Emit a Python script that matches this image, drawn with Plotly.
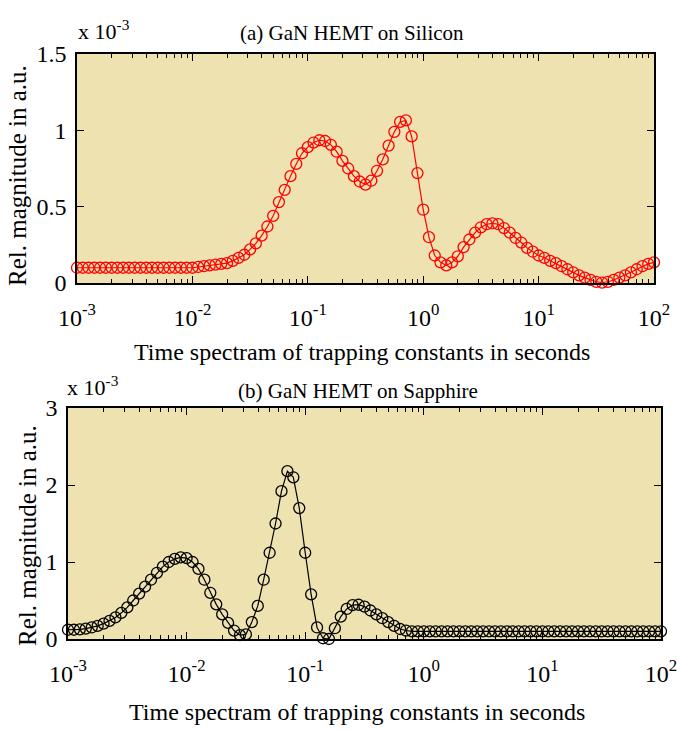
import numpy as np
import plotly.graph_objects as go

# time grid exponents (log10 of seconds)
log_t = [round(-3 + 0.05 * k, 2) for k in range(101)]
t = [10 ** v for v in log_t]

# (a) GaN HEMT on Silicon, magnitude in units of 1e-3
silicon = [
    0.10, 0.10, 0.10, 0.10, 0.10, 0.10, 0.10, 0.10, 0.10, 0.10,
    0.10, 0.10, 0.10, 0.10, 0.10, 0.10, 0.10, 0.10, 0.10, 0.10,
    0.10, 0.105, 0.11, 0.115, 0.12, 0.125, 0.13, 0.145, 0.165, 0.185,
    0.22, 0.26, 0.31, 0.37, 0.44, 0.53, 0.61, 0.70, 0.78, 0.85,
    0.89, 0.92, 0.935, 0.93, 0.905, 0.86, 0.80, 0.75, 0.70, 0.665,
    0.645, 0.67, 0.735, 0.81, 0.90, 0.99, 1.055, 1.065, 0.96, 0.72,
    0.48, 0.30, 0.18, 0.135, 0.115, 0.135, 0.175, 0.235, 0.285, 0.33,
    0.365, 0.385, 0.39, 0.385, 0.36, 0.33, 0.295, 0.265, 0.23, 0.205,
    0.18, 0.165, 0.145, 0.13, 0.11, 0.09, 0.07, 0.05, 0.035, 0.02,
    0.008, 0.003, 0.008, 0.02, 0.035, 0.05, 0.07, 0.09, 0.11, 0.125,
    0.135,
]

# (b) GaN HEMT on Sapphire, magnitude in units of 1e-3
sapphire = [
    0.12, 0.12, 0.125, 0.135, 0.15, 0.17, 0.20, 0.235, 0.28, 0.34,
    0.41, 0.50, 0.59, 0.68, 0.77, 0.86, 0.94, 1.00, 1.04, 1.06,
    1.05, 1.00, 0.91, 0.77, 0.60, 0.45, 0.32, 0.21, 0.11, 0.05,
    0.06, 0.22, 0.43, 0.77, 1.12, 1.50, 1.92, 2.18, 2.10, 1.70,
    1.12, 0.58, 0.15, 0.01, 0.00, 0.14, 0.29, 0.39, 0.44, 0.445,
    0.42, 0.37, 0.32, 0.27, 0.22, 0.17, 0.13, 0.11, 0.10, 0.10,
    0.10, 0.10, 0.10, 0.10, 0.10, 0.10, 0.10, 0.10, 0.10, 0.10,
    0.10, 0.10, 0.10, 0.10, 0.10, 0.10, 0.10, 0.10, 0.10, 0.10,
    0.10, 0.10, 0.10, 0.10, 0.10, 0.10, 0.10, 0.10, 0.10, 0.10,
    0.10, 0.10, 0.10, 0.10, 0.10, 0.10, 0.10, 0.10, 0.10, 0.10,
    0.10,
]

x_tick_vals = [1e-3, 1e-2, 1e-1, 1e0, 1e1, 1e2]
x_tick_text = ["10<sup>-3</sup>", "10<sup>-2</sup>", "10<sup>-1</sup>",
               "10<sup>0</sup>", "10<sup>1</sup>", "10<sup>2</sup>"]
minor_vals = [m * 10.0 ** e for e in range(-3, 2) for m in range(2, 10)]
y1_ticks = [0, 0.5, 1, 1.5]
y1_text = ["0", "0.5", "1", "1.5"]
y2_ticks = [0, 1, 2, 3]
y2_text = ["0", "1", "2", "3"]

W, H = 677, 730
FONT = "Liberation Serif"
BG = "#EEE2B0"

fig = go.Figure()
fig.add_trace(go.Scatter(
    x=t, y=silicon, mode="lines+markers", xaxis="x", yaxis="y",
    line=dict(color="#FF0000", width=1.2), cliponaxis=False,
    marker=dict(symbol="circle-open", size=11, color="#FF0000", line=dict(width=1.3)),
    showlegend=False))
fig.add_trace(go.Scatter(
    x=t, y=sapphire, mode="lines+markers", xaxis="x2", yaxis="y2",
    line=dict(color="#000000", width=1.2), cliponaxis=False,
    marker=dict(symbol="circle-open", size=11, color="#000000", line=dict(width=1.3)),
    showlegend=False))

def xax(domain, anchor):
    return dict(
        type="log", domain=domain, anchor=anchor, range=[-3, 2],
        tickmode="array", tickvals=x_tick_vals, ticktext=x_tick_text,
        ticks="inside", ticklen=7, tickwidth=1, tickcolor="black",
        minor=dict(tickmode="array", tickvals=minor_vals, ticks="inside",
                   ticklen=4, tickwidth=1, tickcolor="black", showgrid=False),
        showline=True, linecolor="black", linewidth=1.5, mirror="ticks",
        showgrid=False, zeroline=False, automargin=False,
        ticklabelstandoff=12, ticklabeloverflow="allow",
        tickfont=dict(family=FONT, size=24, color="black"),
    )

def yax(domain, anchor, rng, vals, text):
    return dict(
        domain=domain, anchor=anchor, range=rng,
        tickmode="array", tickvals=vals, ticktext=text,
        ticks="inside", ticklen=7, tickwidth=1, tickcolor="black",
        showline=True, linecolor="black", linewidth=1.5, mirror="ticks",
        showgrid=False, zeroline=False, automargin=False,
        ticklabelstandoff=4, ticklabeloverflow="allow",
        tickfont=dict(family=FONT, size=24, color="black"),
    )

fig.update_layout(
    width=W, height=H,
    margin=dict(l=0, r=0, t=0, b=0, autoexpand=False),
    paper_bgcolor="white", plot_bgcolor=BG,
    xaxis=xax([77 / W, 654 / W], "y"),
    yaxis=yax([1 - 283 / H, 1 - 54 / H], "x", [0, 1.5], y1_ticks, y1_text),
    xaxis2=xax([68 / W, 661 / W], "y2"),
    yaxis2=yax([1 - 639 / H, 1 - 408 / H], "x2", [0, 3], y2_ticks, y2_text),
    font=dict(family=FONT, color="black"),
)

ann = []
def a(text, x, y, size, xanchor="center", **kw):
    d = dict(text=text, x=x / W, y=1 - y / H, xref="paper", yref="paper",
             xanchor=xanchor, yanchor="middle",
             showarrow=False, font=dict(family=FONT, size=size, color="black"))
    d.update(kw)
    ann.append(d)

a("(a) GaN HEMT on Silicon", 352, 33, 21)
a("(b) GaN HEMT on Sapphire", 358, 391, 21)
a("x 10<sup>-3</sup>", 76, 30, 22, xanchor="left")
a("x 10<sup>-3</sup>", 65, 386, 22, xanchor="left")
a("Time spectram of trapping constants in seconds", 362, 352, 24)
a("Time spectram of trapping constants in seconds", 357, 712, 24)
a("Rel. magnitude in a.u.", 17, 176, 25, textangle=-90)
a("Rel. magnitude in a.u.", 27, 536, 25, textangle=-90)
fig.update_layout(annotations=ann)

fig.write_html("out.html", config={"displayModeBar": False},
               post_script="document.body.style.margin='0';")
